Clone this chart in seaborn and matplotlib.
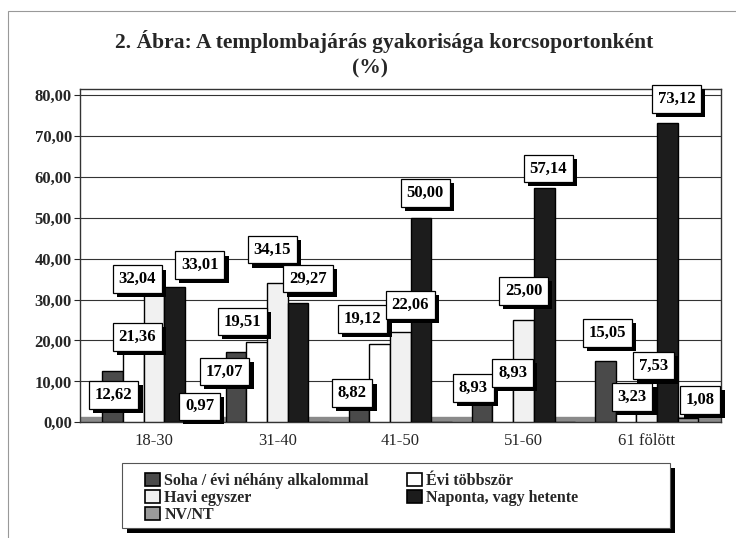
import pandas as pd
import seaborn as sns
from matplotlib import pyplot as plt
from matplotlib import patheffects as pe
from matplotlib.patches import Rectangle, Patch

# Adatok
korcsoportok = ['18-30', '31-40', '41-50', '51-60', '61 fölött']
sorozatok = ['Soha / évi néhány alkalommal', 'Évi többször', 'Havi egyszer',
             'Naponta, vagy hetente', 'NV/NT']
soha = [12.62, 17.07, 8.82, 8.93, 15.05]
evi_tobbszor = [21.36, 19.51, 19.12, 8.93, 3.23]
havi_egyszer = [32.04, 34.15, 22.06, 25.00, 7.53]
naponta = [33.01, 29.27, 50.00, 57.14, 73.12]
nv_nt = [0.97, 0.0, 0.0, 0.0, 1.08]
yticks = [0, 10, 20, 30, 40, 50, 60, 70, 80]

szinek = ['#4a4a4a', '#ffffff', '#f1f1f1', '#1c1c1c', '#9a9a9a']

# címkék eltolása pixelben (sorozat, korcsoport) -> (dx, dy), mint az eredeti ábrán
cimke_eltolas = {
    (0, 0): (1, -24), (1, 0): (4, -2), (2, 0): (-17, 12), (3, 0): (25, 22), (4, 0): (4, 12),
    (0, 1): (-11, -19), (1, 1): (-14, 21), (2, 1): (-5, 33), (3, 1): (10, 24),
    (0, 2): (-7, -7), (1, 2): (-17, 25), (2, 2): (10, 27), (3, 2): (4, 25),
    (0, 3): (-9, -2), (1, 3): (10, 13), (2, 3): (0, 29), (3, 3): (4, 20),
    (0, 4): (2, 28), (1, 4): (6, 12), (2, 4): (7, 26), (3, 4): (9, 24), (4, 4): (12, 18),
}

ertekek = [soha, evi_tobbszor, havi_egyszer, naponta, nv_nt]
rows = []
for s, vals in zip(sorozatok, ertekek):
    for k, v in zip(korcsoportok, vals):
        rows.append({'korcsoport': k, 'sorozat': s, 'ertek': v})
df = pd.DataFrame(rows)

sns.set_style('white')
plt.rcParams['font.family'] = ['Liberation Serif', 'DejaVu Serif']

fig = plt.figure(figsize=(7.36, 5.38), dpi=100)
ax = fig.add_axes([0.109, 0.215, 0.87, 0.62])

sns.barplot(data=df, x='korcsoport', y='ertek', hue='sorozat', hue_order=sorozatok,
            palette=szinek, edgecolor='black', linewidth=1.0, width=0.84,
            legend=False, ax=ax, zorder=3)

ax.set_ylim(0, 81.5)
ax.set_xlim(-0.6, 4.6)
ax.set_yticks(yticks)
ax.set_yticklabels([f'{t:.2f}'.replace('.', ',') for t in yticks],
                   fontsize=12, fontweight='bold')
ax.tick_params(axis='y', length=4, direction='out', left=True, pad=2)
ax.tick_params(axis='x', labelsize=12, length=0, pad=8)
ax.set_xlabel('')
ax.set_ylabel('')
ax.yaxis.grid(True, color='#333333', linewidth=0.8, zorder=0)
for sp in ax.spines.values():
    sp.set_color('#333333')
    sp.set_linewidth(1.0)

# padló sáv
ax.axhspan(0, 1.2, color='#8a8a8a', zorder=2)

# adatcímkék árnyékkal
arnyek = [pe.SimplePatchShadow(offset=(3, -3), shadow_rgbFace='black', alpha=1.0), pe.Normal()]
for j, (cont, vals) in enumerate(zip(ax.containers, ertekek)):
    for i, (bar, v) in enumerate(zip(cont, vals)):
        if v == 0:
            continue
        dx, dy = cimke_eltolas[(j, i)]
        x = bar.get_x() + bar.get_width() / 2
        txt = f'{v:.2f}'.replace('.', ',')
        a = ax.annotate(txt, (x, v), xytext=(dx, dy), textcoords='offset pixels',
                        ha='center', va='center', fontsize=12, fontweight='bold',
                        color='black', zorder=7,
                        bbox=dict(boxstyle='square,pad=0.35', fc='white', ec='black', lw=0.9))
        a.get_bbox_patch().set_path_effects(arnyek)

fig.text(0.522, 0.922, '2. Ábra: A templombajárás gyakorisága korcsoportonként',
         ha='center', va='center', fontsize=15.5, fontweight='bold')
fig.text(0.503, 0.872, '(%)', ha='center', va='center', fontsize=15.5, fontweight='bold')

# jelmagyarázat keret + árnyék
fig.patches.append(Rectangle((0.173, 0.010), 0.744, 0.12, transform=fig.transFigure,
                             facecolor='black', edgecolor='none', zorder=1))
fig.patches.append(Rectangle((0.166, 0.019), 0.744, 0.12, transform=fig.transFigure,
                             facecolor='white', edgecolor='#555555', linewidth=0.8, zorder=2))

handles = {s: Patch(facecolor=c, edgecolor='black', linewidth=1.2)
           for s, c in zip(sorozatok, szinek)}
rend = [sorozatok[0], sorozatok[2], sorozatok[4], sorozatok[1], sorozatok[3]]
leg = fig.legend([handles[s] for s in rend], rend, ncol=2,
                 loc='upper left', bbox_to_anchor=(0.182, 0.142),
                 frameon=False,
                 prop={'family': 'Liberation Serif', 'weight': 'bold', 'size': 11.5},
                 handlelength=0.9, handleheight=0.9, handletextpad=0.3,
                 labelspacing=0.05, borderpad=0.2, columnspacing=2.4)
leg.set_zorder(5)

# külső keret
fig.patches.append(Rectangle((0.011, -0.02), 1.0, 1.0, transform=fig.transFigure,
                             facecolor='none', edgecolor='#999999', linewidth=0.8))

plt.savefig('out.png', dpi=100)
